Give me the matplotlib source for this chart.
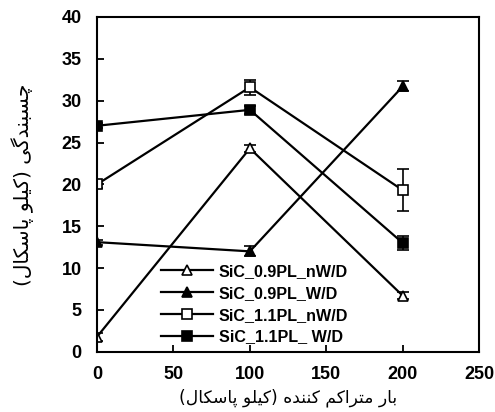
import matplotlib
matplotlib.use("Agg")
import matplotlib.pyplot as plt

# ---- data ----
x_load = [0, 100, 200]
labels = ["SiC_0.9PL_nW/D", "SiC_0.9PL_W/D", "SiC_1.1PL_nW/D", "SiC_1.1PL_ W/D"]
y_09_nwd = [1.8, 24.3, 6.7]
e_09_nwd = [0.5, 0.4, 0.4]
y_09_wd = [13.1, 12.0, 31.7]
e_09_wd = [0.3, 0.6, 0.6]
y_11_nwd = [20.0, 31.6, 19.3]
e_11_nwd = [0.4, 0.9, 2.5]
y_11_wd = [27.0, 28.9, 13.0]
e_11_wd = [0.3, 0.5, 0.8]
xticks = [0, 50, 100, 150, 200, 250]
yticks = [0, 5, 10, 15, 20, 25, 30, 35, 40]
xlabel_fa = "بار متراکم کننده (کیلو پاسکال)"
ylabel_fa = "چسبندگی (کیلو پاسکال)"

# ---- minimal Persian shaping (presentation forms, visual order) ----
FORMS = {
    'ا': ('\uFE8D', '\uFE8E', None, None),
    'ب': ('\uFE8F', '\uFE90', '\uFE91', '\uFE92'),
    'پ': ('\uFB56', '\uFB57', '\uFB58', '\uFB59'),
    'ت': ('\uFE95', '\uFE96', '\uFE97', '\uFE98'),
    'چ': ('\uFB7A', '\uFB7B', '\uFB7C', '\uFB7D'),
    'د': ('\uFEA9', '\uFEAA', None, None),
    'ر': ('\uFEAD', '\uFEAE', None, None),
    'س': ('\uFEB1', '\uFEB2', '\uFEB3', '\uFEB4'),
    'ک': ('\uFB8E', '\uFB8F', '\uFB90', '\uFB91'),
    'گ': ('\uFB92', '\uFB93', '\uFB94', '\uFB95'),
    'ل': ('\uFEDD', '\uFEDE', '\uFEDF', '\uFEE0'),
    'م': ('\uFEE1', '\uFEE2', '\uFEE3', '\uFEE4'),
    'ن': ('\uFEE5', '\uFEE6', '\uFEE7', '\uFEE8'),
    'ه': ('\uFEE9', '\uFEEA', '\uFEEB', '\uFEEC'),
    'و': ('\uFEED', '\uFEEE', None, None),
    'ی': ('\uFBFC', '\uFBFD', '\uFBFE', '\uFBFF'),
}


def shape(text):
    out = []
    n = len(text)
    for i, ch in enumerate(text):
        if ch not in FORMS:
            out.append(ch)
            continue
        prev = text[i - 1] if i > 0 else None
        nxt = text[i + 1] if i + 1 < n else None
        join_prev = prev in FORMS and FORMS[prev][2] is not None
        join_next = nxt in FORMS and FORMS[ch][2] is not None
        iso, fin, ini, med = FORMS[ch]
        if join_prev and join_next:
            out.append(med)
        elif join_prev:
            out.append(fin)
        elif join_next:
            out.append(ini)
        else:
            out.append(iso)
    vis = ''.join(reversed(out))
    vis = vis.translate(str.maketrans({'(': ')', ')': '('}))
    return vis


plt.rcParams['font.family'] = ['Liberation Sans', 'DejaVu Sans']

fig = plt.figure(figsize=(4.95, 4.12), dpi=100)
ax = fig.add_axes([0.196, 0.146, 0.772, 0.813])

series = [
    (y_09_nwd, e_09_nwd, '^', 'white'),
    (y_09_wd, e_09_wd, '^', 'black'),
    (y_11_nwd, e_11_nwd, 's', 'white'),
    (y_11_wd, e_11_wd, 's', 'black'),
]
for (ys, es, mk, fc), lab in zip(series, labels):
    ax.errorbar(x_load, ys, yerr=es, color='black', lw=1.6, marker=mk,
                markersize=6.5, markerfacecolor=fc,
                markeredgecolor='black', markeredgewidth=1.2,
                capsize=4, elinewidth=1.2, capthick=1.2, label=lab)

ax.set_xlim(0, 250)
ax.set_ylim(0, 40)
ax.set_xticks(xticks)
ax.set_yticks(yticks)
ax.tick_params(direction='in', length=5, width=1.3, labelsize=13)
ax.tick_params(axis='x', pad=10)
ax.tick_params(axis='y', pad=11)
for lbl in ax.get_xticklabels() + ax.get_yticklabels():
    lbl.set_fontweight('bold')
for sp in ax.spines.values():
    sp.set_linewidth(1.5)

ax.set_xlabel(shape(xlabel_fa), family=['DejaVu Sans'], fontsize=12.3,
              labelpad=4)
ax.set_ylabel(shape(ylabel_fa), family=['DejaVu Sans'], fontsize=14.5,
              labelpad=20)

h, l = ax.get_legend_handles_labels()
h = [hh[0] for hh in h]
leg = ax.legend(h, l, loc='upper left', bbox_to_anchor=(0.168, 0.262),
                frameon=False, borderpad=0, borderaxespad=0,
                handlelength=3.2, handletextpad=0.37, labelspacing=0.42,
                prop={'family': 'Liberation Sans', 'weight': 'bold', 'size': 11.6})

fig.savefig('out.png', dpi=100)
